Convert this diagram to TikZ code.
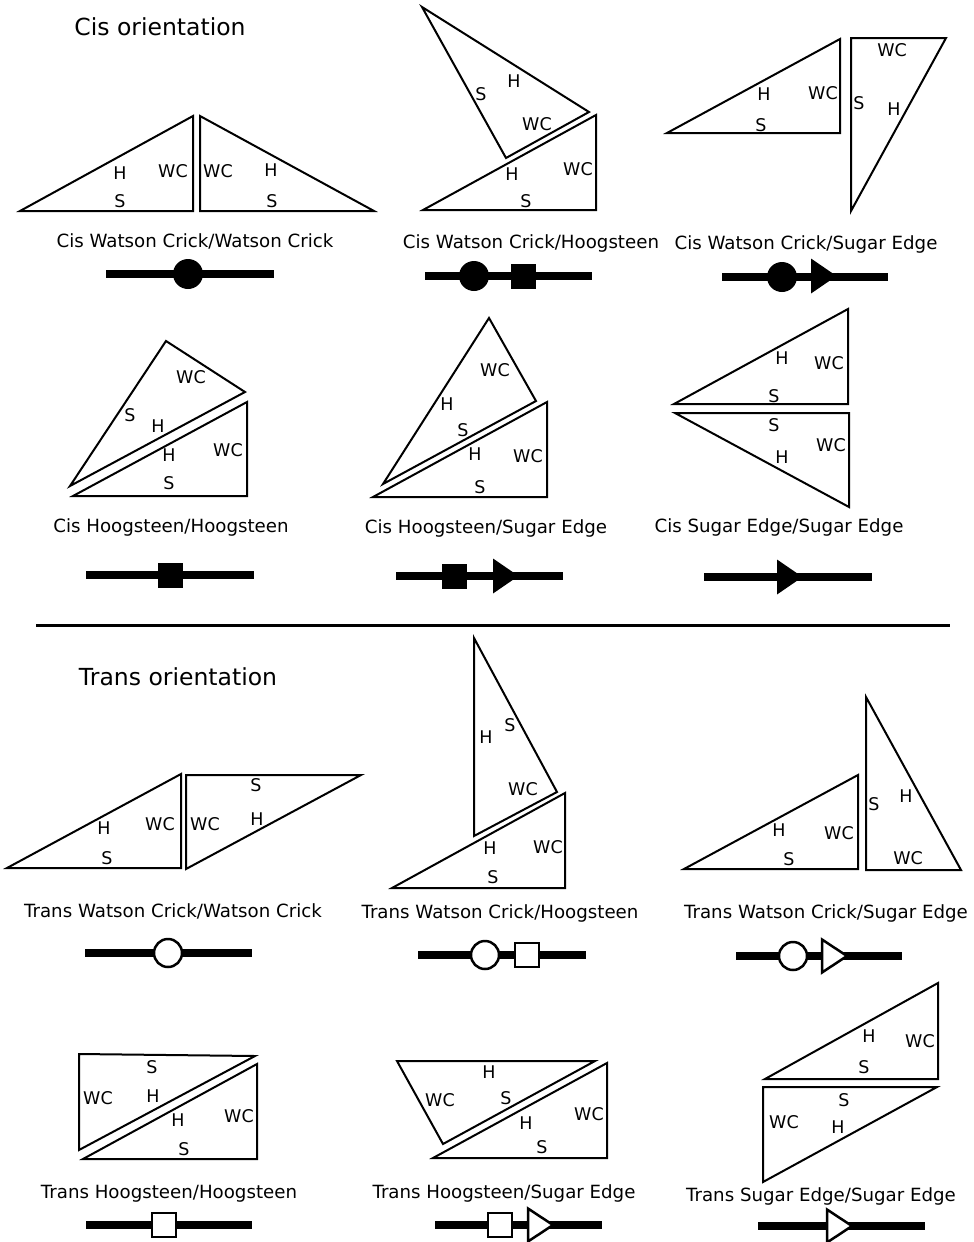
\documentclass[tikz,border=0pt]{standalone}
\usepackage{fontspec}
\setmainfont{DejaVu Sans}
\begin{document}
\begin{tikzpicture}[x=1pt,y=-1pt,
  tri/.style={draw=black,line width=2pt,line join=miter},
  lab/.style={font=\fontsize{17.5}{20}\selectfont,inner sep=0pt},
  captxt/.style={font=\fontsize{18.2}{22}\selectfont,anchor=base,inner sep=0pt},
  ttl/.style={font=\fontsize{23.5}{28}\selectfont,anchor=base,inner sep=0pt},
  bond/.style={line width=7.3pt},
  fcirc/.style={circle,fill=black,minimum size=30pt,inner sep=0pt},
  ocirc/.style={circle,draw=black,fill=white,line width=2.5pt,minimum size=28pt,inner sep=0pt},
  fsq/.style={rectangle,fill=black,minimum size=25pt,inner sep=0pt},
  osq/.style={rectangle,draw=black,fill=white,line width=2.5pt,minimum size=24pt,inner sep=0pt},
  fse/.pic={\fill[black] (0,-17.5) -- (25.5,0) -- (0,17.5) -- cycle;},
  ose/.pic={\filldraw[fill=white,draw=black,line width=2.5pt,line join=miter] (0,-16.5) -- (25,0) -- (0,16.5) -- cycle;}
]
\useasboundingbox (0,0) rectangle (974,1242);

% titles and separator
\node[ttl] (cistitle) at (160,35.5) {Cis orientation};
\node[ttl] (transtitle) at (178,685.5) {Trans orientation};
\coordinate (sepl) at (36,625);
\coordinate (sepr) at (950,625);
\draw[line width=3pt] (sepl) -- (sepr);

% ---------- Panel 1: Cis WC/WC
\draw[tri] (20,211) -- (193,116) -- (193,211) -- cycle;
\draw[tri] (200,116) -- (200,211) -- (374,211) -- cycle;
\node[lab] (p1a) at (120,173) {H};
\node[lab] (p1b) at (120,201) {S};
\node[lab] (p1c) at (173,171) {WC};
\node[lab] (p1d) at (218,171) {WC};
\node[lab] (p1e) at (271,170) {H};
\node[lab] (p1f) at (272,201) {S};
\node[captxt] (c1) at (195,247) {Cis Watson Crick/Watson Crick};
\coordinate (b1l) at (106,274);
\coordinate (b1r) at (274,274);
\draw[bond] (b1l) -- (b1r);
\node[fcirc] (s1a) at (188,274) {};

% ---------- Panel 2: Cis WC/H
\draw[tri] (422,7) -- (589,112) -- (506,158) -- cycle;
\draw[tri] (423,210) -- (596,115) -- (596,210) -- cycle;
\node[lab] (p2a) at (481,94) {S};
\node[lab] (p2b) at (514,81) {H};
\node[lab] (p2c) at (537,124) {WC};
\node[lab] (p2d) at (512,174) {H};
\node[lab] (p2e) at (578,169) {WC};
\node[lab] (p2f) at (526,201) {S};
\node[captxt] (c2) at (531,248) {Cis Watson Crick/Hoogsteen};
\coordinate (b2l) at (425,276);
\coordinate (b2r) at (592,276);
\draw[bond] (b2l) -- (b2r);
\node[fcirc] (s2a) at (474,276) {};
\node[fsq] (s2b) at (523,276) {};

% ---------- Panel 3: Cis WC/SE
\draw[tri] (667,133) -- (840,39) -- (840,133) -- cycle;
\draw[tri] (851,38) -- (946,38) -- (851,211) -- cycle;
\node[lab] (p3a) at (764,94) {H};
\node[lab] (p3b) at (823,93) {WC};
\node[lab] (p3c) at (761,125) {S};
\node[lab] (p3d) at (892,50) {WC};
\node[lab] (p3e) at (859,103) {S};
\node[lab] (p3f) at (894,109) {H};
\node[captxt] (c3) at (806,249) {Cis Watson Crick/Sugar Edge};
\coordinate (b3l) at (722,277);
\coordinate (b3r) at (888,277);
\draw[bond] (b3l) -- (b3r);
\node[fcirc] (s3a) at (782,277) {};
\pic (s3b) at (811,276) {fse};

% ---------- Panel 4: Cis H/H
\draw[tri] (166,341) -- (245,392) -- (70,486) -- cycle;
\draw[tri] (73,496) -- (247,402) -- (247,496) -- cycle;
\node[lab] (p4a) at (191,377) {WC};
\node[lab] (p4b) at (130,415) {S};
\node[lab] (p4c) at (158,426) {H};
\node[lab] (p4d) at (169,455) {H};
\node[lab] (p4e) at (228,450) {WC};
\node[lab] (p4f) at (169,483) {S};
\node[captxt] (c4) at (171,532) {Cis Hoogsteen/Hoogsteen};
\coordinate (b4l) at (86,575);
\coordinate (b4r) at (254,575);
\draw[bond] (b4l) -- (b4r);
\node[fsq] (s4a) at (170,575) {};

% ---------- Panel 5: Cis H/SE
\draw[tri] (489,318) -- (536,401) -- (383,484) -- cycle;
\draw[tri] (373,497) -- (547,402) -- (547,497) -- cycle;
\node[lab] (p5a) at (495,370) {WC};
\node[lab] (p5b) at (447,404) {H};
\node[lab] (p5c) at (463,430) {S};
\node[lab] (p5d) at (475,454) {H};
\node[lab] (p5e) at (528,456) {WC};
\node[lab] (p5f) at (480,487) {S};
\node[captxt] (c5) at (486,533) {Cis Hoogsteen/Sugar Edge};
\coordinate (b5l) at (396,576);
\coordinate (b5r) at (563,576);
\draw[bond] (b5l) -- (b5r);
\node[fsq] (s5a) at (454,576) {};
\pic (s5b) at (493,576) {fse};

% ---------- Panel 6: Cis SE/SE
\draw[tri] (674,404) -- (848,309) -- (848,404) -- cycle;
\draw[tri] (675,413) -- (849,413) -- (849,507) -- cycle;
\node[lab] (p6a) at (782,358) {H};
\node[lab] (p6b) at (829,363) {WC};
\node[lab] (p6c) at (774,396) {S};
\node[lab] (p6d) at (774,425) {S};
\node[lab] (p6e) at (831,445) {WC};
\node[lab] (p6f) at (782,457) {H};
\node[captxt] (c6) at (779,532) {Cis Sugar Edge/Sugar Edge};
\coordinate (b6l) at (704,577);
\coordinate (b6r) at (872,577);
\draw[bond] (b6l) -- (b6r);
\pic (s6a) at (777,577) {fse};

% ---------- Panel 7: Trans WC/WC
\draw[tri] (7,868) -- (181,774) -- (181,868) -- cycle;
\draw[tri] (186,775) -- (361,775) -- (186,869) -- cycle;
\node[lab] (p7a) at (104,828) {H};
\node[lab] (p7b) at (107,858) {S};
\node[lab] (p7c) at (160,824) {WC};
\node[lab] (p7d) at (205,824) {WC};
\node[lab] (p7e) at (256,785) {S};
\node[lab] (p7f) at (257,819) {H};
\node[captxt] (c7) at (173,917) {Trans Watson Crick/Watson Crick};
\coordinate (b7l) at (85,953);
\coordinate (b7r) at (252,953);
\draw[bond] (b7l) -- (b7r);
\node[ocirc] (s7a) at (168,953) {};

% ---------- Panel 8: Trans WC/H
\draw[tri] (474,638) -- (557,792) -- (474,836) -- cycle;
\draw[tri] (392,888) -- (565,793) -- (565,888) -- cycle;
\node[lab] (p8a) at (486,737) {H};
\node[lab] (p8b) at (510,725) {S};
\node[lab] (p8c) at (523,789) {WC};
\node[lab] (p8d) at (490,848) {H};
\node[lab] (p8e) at (548,847) {WC};
\node[lab] (p8f) at (493,877) {S};
\node[captxt] (c8) at (500,918) {Trans Watson Crick/Hoogsteen};
\coordinate (b8l) at (418,955);
\coordinate (b8r) at (586,955);
\draw[bond] (b8l) -- (b8r);
\node[ocirc] (s8a) at (485,955) {};
\node[osq] (s8b) at (527,955) {};

% ---------- Panel 9: Trans WC/SE
\draw[tri] (684,869) -- (858,775) -- (858,869) -- cycle;
\draw[tri] (866,697) -- (961,870) -- (866,870) -- cycle;
\node[lab] (p9a) at (779,830) {H};
\node[lab] (p9b) at (839,833) {WC};
\node[lab] (p9c) at (789,859) {S};
\node[lab] (p9d) at (874,804) {S};
\node[lab] (p9e) at (906,796) {H};
\node[lab] (p9f) at (908,858) {WC};
\node[captxt] (c9) at (826,918) {Trans Watson Crick/Sugar Edge};
\coordinate (b9l) at (736,956);
\coordinate (b9r) at (902,956);
\draw[bond] (b9l) -- (b9r);
\node[ocirc] (s9a) at (793,956) {};
\pic (s9b) at (822,956) {ose};

% ---------- Panel 10: Trans H/H
\draw[tri] (79,1054) -- (255,1056) -- (79,1150) -- cycle;
\draw[tri] (83,1159) -- (257,1064) -- (257,1159) -- cycle;
\node[lab] (p10a) at (152,1067) {S};
\node[lab] (p10b) at (98,1098) {WC};
\node[lab] (p10c) at (153,1096) {H};
\node[lab] (p10d) at (178,1120) {H};
\node[lab] (p10e) at (239,1116) {WC};
\node[lab] (p10f) at (184,1149) {S};
\node[captxt] (c10) at (169,1198) {Trans Hoogsteen/Hoogsteen};
\coordinate (b10l) at (86,1225);
\coordinate (b10r) at (252,1225);
\draw[bond] (b10l) -- (b10r);
\node[osq] (s10a) at (164,1225) {};

% ---------- Panel 11: Trans H/SE
\draw[tri] (397,1061) -- (595,1061) -- (443,1144) -- cycle;
\draw[tri] (433,1158) -- (607,1063) -- (607,1158) -- cycle;
\node[lab] (p11a) at (489,1072) {H};
\node[lab] (p11b) at (440,1100) {WC};
\node[lab] (p11c) at (506,1098) {S};
\node[lab] (p11d) at (526,1123) {H};
\node[lab] (p11e) at (589,1114) {WC};
\node[lab] (p11f) at (542,1147) {S};
\node[captxt] (c11) at (504,1198) {Trans Hoogsteen/Sugar Edge};
\coordinate (b11l) at (435,1225);
\coordinate (b11r) at (602,1225);
\draw[bond] (b11l) -- (b11r);
\node[osq] (s11a) at (500,1225) {};
\pic (s11b) at (528,1225) {ose};

% ---------- Panel 12: Trans SE/SE
\draw[tri] (765,1079) -- (938,983) -- (938,1079) -- cycle;
\draw[tri] (763,1087) -- (937,1087) -- (763,1182) -- cycle;
\node[lab] (p12a) at (869,1036) {H};
\node[lab] (p12b) at (920,1041) {WC};
\node[lab] (p12c) at (864,1067) {S};
\node[lab] (p12d) at (844,1100) {S};
\node[lab] (p12e) at (784,1122) {WC};
\node[lab] (p12f) at (838,1127) {H};
\node[captxt] (c12) at (821,1201) {Trans Sugar Edge/Sugar Edge};
\coordinate (b12l) at (758,1226);
\coordinate (b12r) at (925,1226);
\draw[bond] (b12l) -- (b12r);
\pic (s12a) at (827,1226) {ose};
\end{tikzpicture}
\end{document}
